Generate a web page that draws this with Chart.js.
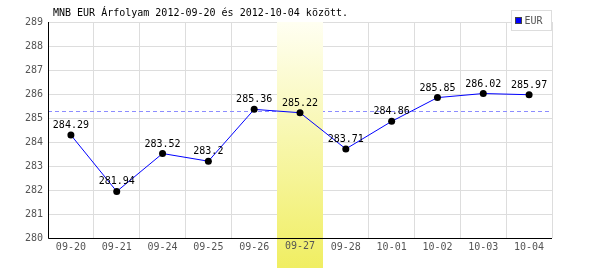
<!DOCTYPE html>
<html><head><meta charset="utf-8">
<script src="https://cdn.jsdelivr.net/npm/chart.js@4"></script>
<style>html,body{margin:0;padding:0;background:#fff;overflow:hidden}#wrap{width:600px;height:270px;position:relative}</style>
</head><body><div id="wrap"><canvas id="c" width="600" height="270"></canvas></div>
<script>
const categories = ['09-20','09-21','09-24','09-25','09-26','09-27','09-28','10-01','10-02','10-03','10-04'];
const eurValues = [284.29, 281.94, 283.52, 283.2, 285.36, 285.22, 283.71, 284.86, 285.85, 286.02, 285.97];
const yTicks = [280, 281, 282, 283, 284, 285, 286, 287, 288, 289];
const referenceLine = 285.29;
const highlightCategory = '09-27';
const titleText = 'MNB EUR Árfolyam 2012-09-20 és 2012-10-04 között.';
const seriesName = 'EUR';

const FONT = '"DejaVu Sans Mono", "Liberation Mono", monospace';
const TICK_COLOR = '#555555';
const GRID_COLOR = '#dddddd';

const customPlugin = {
  id: 'custom',
  beforeDatasetsDraw(chart) {
    const ctx = chart.ctx, ca = chart.chartArea;
    const xs = chart.scales.x, ys = chart.scales.y;
    // reference dashed line
    const ry = Math.round(ys.getPixelForValue(referenceLine)) + 0.5;
    ctx.save();
    ctx.strokeStyle = '#8c8cff';
    ctx.lineWidth = 1;
    ctx.setLineDash([4, 3]);
    ctx.beginPath(); ctx.moveTo(ca.left, ry); ctx.lineTo(ca.right, ry); ctx.stroke();
    ctx.restore();
    // highlight column
    const idx = categories.indexOf(highlightCategory);
    const cw = (ca.right - ca.left) / categories.length;
    const cx = xs.getPixelForValue(idx);
    const x0 = Math.round(cx - cw / 2), x1 = Math.round(cx + cw / 2);
    const bottom = chart.height - 2;
    const g = ctx.createLinearGradient(0, ca.top, 0, bottom);
    g.addColorStop(0, '#fffff2');
    g.addColorStop(1, '#f0ee62');
    ctx.save();
    ctx.fillStyle = g;
    ctx.fillRect(x0, ca.top, x1 - x0, bottom - ca.top);
    // redraw covered tick label
    ctx.fillStyle = TICK_COLOR;
    ctx.font = '10px ' + FONT;
    ctx.textAlign = 'center';
    ctx.textBaseline = 'middle';
    ctx.fillText(highlightCategory, cx, ca.bottom + 8);
    ctx.restore();
    // axis lines
    ctx.save();
    ctx.strokeStyle = '#000';
    ctx.lineWidth = 1;
    ctx.beginPath();
    ctx.moveTo(ca.left + 0.5, ca.top);
    ctx.lineTo(ca.left + 0.5, ca.bottom + 0.5);
    ctx.lineTo(ca.right, ca.bottom + 0.5);
    ctx.stroke();
    ctx.restore();
  },
  afterDatasetsDraw(chart) {
    const ctx = chart.ctx;
    const meta = chart.getDatasetMeta(0);
    ctx.save();
    ctx.fillStyle = '#000';
    ctx.font = '10px ' + FONT;
    ctx.textAlign = 'center';
    ctx.textBaseline = 'alphabetic';
    meta.data.forEach((pt, i) => {
      ctx.fillText(String(eurValues[i]), pt.x, pt.y - 7);
    });
    ctx.restore();
  },
  afterDraw(chart) {
    const ctx = chart.ctx, ca = chart.chartArea;
    ctx.save();
    // title
    ctx.fillStyle = '#000';
    ctx.font = '10px ' + FONT;
    ctx.textAlign = 'left';
    ctx.textBaseline = 'middle';
    ctx.fillText(titleText, ca.left + 5, 13);
    // legend
    const lx = ca.right - 40.5, ly = 10.5, lw = 40, lh = 20;
    ctx.fillStyle = '#fff';
    ctx.fillRect(lx, ly, lw, lh);
    ctx.strokeStyle = GRID_COLOR;
    ctx.lineWidth = 1;
    ctx.strokeRect(lx, ly, lw, lh);
    ctx.fillStyle = '#0000ff';
    ctx.fillRect(lx + 4, ly + 7, 6, 6);
    ctx.strokeStyle = '#444';
    ctx.strokeRect(lx + 4, ly + 7, 6, 6);
    ctx.fillStyle = TICK_COLOR;
    ctx.fillText(seriesName, lx + 13, ly + 10.5);
    ctx.restore();
  }
};

new Chart(document.getElementById('c'), {
  type: 'line',
  data: {
    labels: categories,
    datasets: [{
      label: seriesName,
      data: eurValues,
      borderColor: '#0000ff',
      borderWidth: 1,
      tension: 0,
      pointRadius: 3.5,
      pointHoverRadius: 3.5,
      pointBackgroundColor: '#000',
      pointBorderColor: '#000',
      pointBorderWidth: 0,
      fill: false
    }]
  },
  options: {
    responsive: false,
    animation: false,
    devicePixelRatio: 1,
    layout: { padding: { top: 22, right: 48, left: 0, bottom: 0 } },
    plugins: { legend: { display: false }, title: { display: false }, tooltip: { enabled: false } },
    events: [],
    scales: {
      x: {
        type: 'category',
        offset: true,
        grid: { offset: true, color: GRID_COLOR, drawTicks: false, lineWidth: 1 },
        border: { display: false },
        ticks: { color: TICK_COLOR, font: { family: FONT, size: 10 }, padding: 3, maxRotation: 0, autoSkip: false },
        afterFit(s) { s.height = 32; }
      },
      y: {
        type: 'linear',
        min: yTicks[0],
        max: yTicks[yTicks.length - 1],
        afterBuildTicks(s) { s.ticks = yTicks.map(v => ({ value: v })); },
        grid: { color: GRID_COLOR, drawTicks: false, lineWidth: 1 },
        border: { display: false },
        ticks: { color: TICK_COLOR, font: { family: FONT, size: 10 }, padding: 5 },
        afterFit(s) { s.width = 48; }
      }
    }
  },
  plugins: [customPlugin]
});
</script>
</body></html>
